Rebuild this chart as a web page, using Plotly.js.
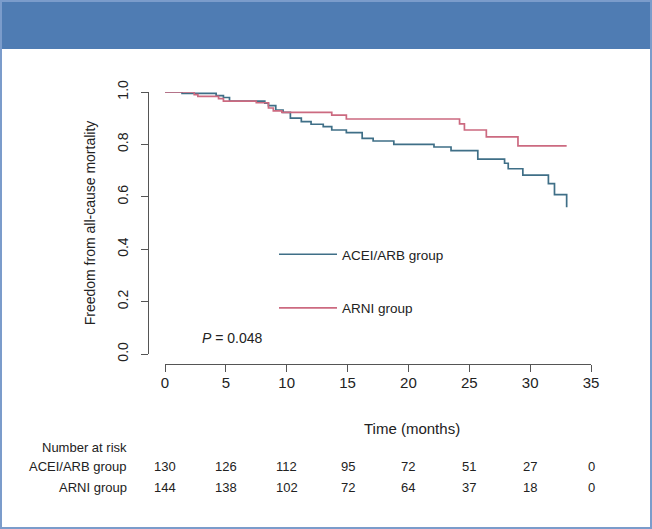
<!DOCTYPE html>
<html>
<head>
<meta charset="utf-8">
<script src="https://cdn.plot.ly/plotly-3.0.1.min.js"></script>
<style>html,body{margin:0;padding:0;background:#fff;}</style>
</head>
<body>
<div id="chart" style="width:652px;height:529px;"></div>
<script>
// ---- data ----
const aceiTime = [0, 1.4, 4.2, 4.8, 5.3, 8.2, 8.5, 9.1, 9.7, 10.3, 11.2, 12.0, 13.0, 13.7, 14.9, 16.2, 17.1, 18.8, 22.1, 23.5, 25.7, 27.9, 28.2, 29.4, 31.5, 32.0, 33.0];
const aceiSurv = [1.0, 0.995, 0.986, 0.979, 0.965, 0.957, 0.948, 0.931, 0.922, 0.900, 0.887, 0.877, 0.868, 0.855, 0.845, 0.823, 0.813, 0.800, 0.790, 0.776, 0.744, 0.728, 0.707, 0.683, 0.650, 0.608, 0.560];
const arniTime = [0, 2.4, 2.7, 4.4, 4.8, 7.5, 8.5, 8.9, 9.6, 13.7, 14.9, 24.2, 24.6, 26.4, 29.0, 33.0];
const arniSurv = [1.0, 0.990, 0.983, 0.975, 0.965, 0.959, 0.939, 0.928, 0.922, 0.912, 0.897, 0.878, 0.855, 0.829, 0.794, 0.794];
const groupNames = ['ACEI/ARB group', 'ARNI group'];
const xTicks = [0, 5, 10, 15, 20, 25, 30, 35];
const yTicks = [0, 0.2, 0.4, 0.6, 0.8, 1.0];
const yTickText = ['0.0', '0.2', '0.4', '0.6', '0.8', '1.0'];
const riskTimes = [0, 5, 10, 15, 20, 25, 30, 35];
const riskAcei = [130, 126, 112, 95, 72, 51, 27, 0];
const riskArni = [144, 138, 102, 72, 64, 37, 18, 0];
const pText = '<i>P</i> = 0.048';

// ---- layout helpers (pixel -> paper, margins are zero) ----
const W = 652, H = 529;
const px = x => x / W;
const py = y => 1 - y / H;
const SANS = '"Liberation Sans", Arial, Helvetica, sans-serif';
const blue = '#3f6f87';
const red = '#cc6a80';
const axisCol = '#555555';
const textCol = '#222222';

const traces = [
  {x: aceiTime, y: aceiSurv, name: groupNames[0], type: 'scatter', mode: 'lines',
   line: {shape: 'hv', color: blue, width: 1.7}, legendgroup: 'a'},
  {x: arniTime, y: arniSurv, name: groupNames[1], type: 'scatter', mode: 'lines',
   line: {shape: 'hv', color: red, width: 1.7}, legendgroup: 'b'}
];

const annotations = [];
function addText(text, x, y, anchor, size, xref) {
  annotations.push({text: text, xref: xref || 'paper', yref: 'paper',
    x: xref === 'x' ? x : px(x), y: py(y),
    xanchor: anchor, yanchor: 'middle', showarrow: false,
    font: {family: SANS, size: size, color: textCol}});
}
addText(pText, 200, 338, 'left', 14);
addText('Time (months)', 412, 428, 'center', 15);
addText('Number at risk', 129, 447, 'right', 13);
addText(groupNames[0], 129, 466.5, 'right', 13);
addText(groupNames[1], 129, 487, 'right', 13);
riskAcei.forEach((v, i) => addText(String(v), riskTimes[i], 466.5, 'center', 13, 'x'));
riskArni.forEach((v, i) => addText(String(v), riskTimes[i], 487, 'center', 13, 'x'));

const layout = {
  width: W, height: H,
  margin: {l: 0, r: 0, t: 0, b: 0},
  paper_bgcolor: '#ffffff', plot_bgcolor: 'rgba(0,0,0,0)',
  font: {family: SANS, color: textCol},
  showlegend: true,
  legend: {x: px(274), y: py(239), xanchor: 'left', yanchor: 'top',
    bgcolor: 'rgba(0,0,0,0)', traceorder: 'grouped', tracegroupgap: 33,
    itemwidth: 58, font: {family: SANS, size: 13.5, color: textCol}},
  xaxis: {domain: [px(165), px(591)], range: [0, 35], anchor: 'free', position: py(364),
    showline: true, linecolor: axisCol, linewidth: 1, ticks: 'outside', ticklen: 7,
    tickcolor: axisCol, tickvals: xTicks, showgrid: false, zeroline: false,
    ticklabelstandoff: -2,
    tickfont: {family: SANS, size: 15, color: textCol}, automargin: false, fixedrange: true},
  yaxis: {domain: [py(354), py(92)], range: [0, 1], anchor: 'free', position: px(148),
    showline: true, linecolor: axisCol, linewidth: 1, ticks: 'outside', ticklen: 7,
    tickcolor: axisCol, tickvals: yTicks, ticktext: yTickText, tickangle: -90,
    ticklabelstandoff: 7,
    showgrid: false, zeroline: false, automargin: false, fixedrange: true,
    tickfont: {family: SANS, size: 14, color: textCol},
    title: {text: 'Freedom from all-cause mortality', standoff: 15,
      font: {family: SANS, size: 14, color: textCol}}},
  shapes: [
    {type: 'rect', xref: 'paper', yref: 'paper', x0: 0, x1: 1, y0: py(49), y1: 1,
     fillcolor: '#4f7cb3', line: {width: 0}, layer: 'below'},
    {type: 'rect', xref: 'paper', yref: 'paper', x0: px(1), x1: px(651), y0: py(528), y1: py(1),
     fillcolor: 'rgba(0,0,0,0)', line: {color: '#7b9ccb', width: 2}, layer: 'below'}
  ],
  annotations: annotations
};

Plotly.newPlot('chart', traces, layout, {displayModeBar: false, staticPlot: true});
</script>
</body>
</html>
